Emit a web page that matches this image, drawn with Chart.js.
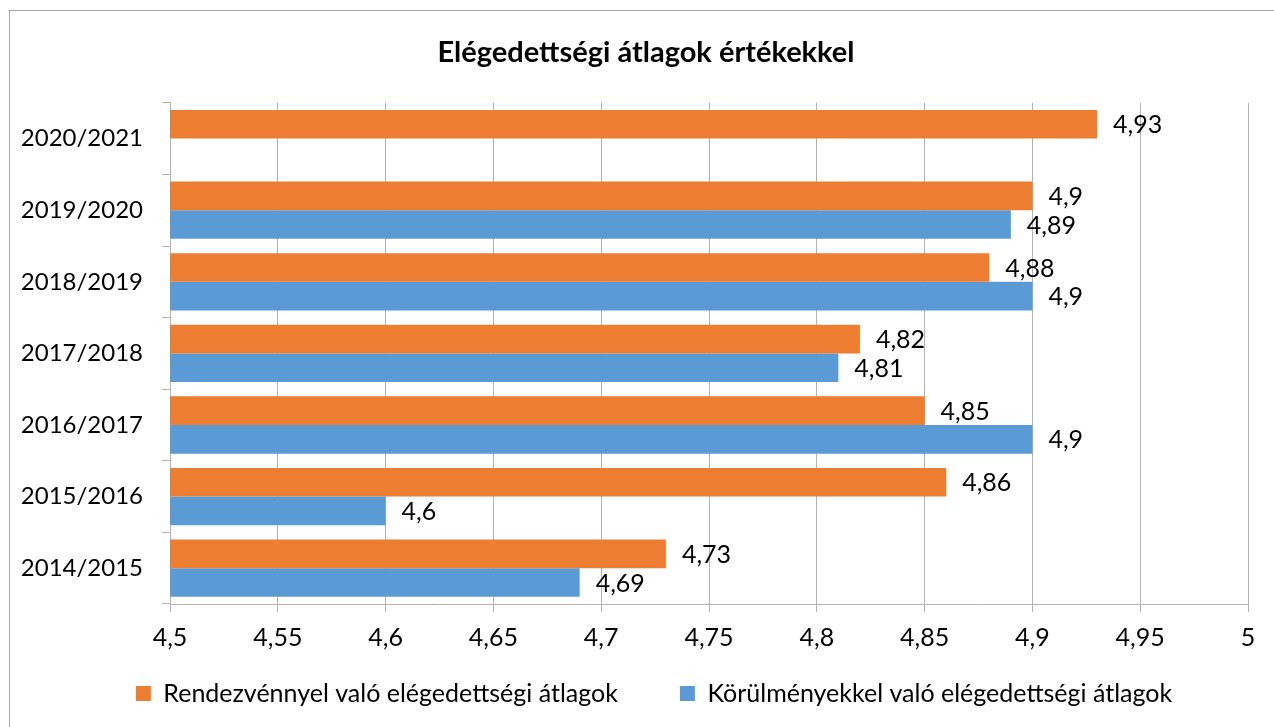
<!DOCTYPE html>
<html>
<head>
<meta charset="utf-8">
<title>Elégedettségi átlagok értékekkel</title>
<script src="https://cdn.jsdelivr.net/npm/chart.js@4/dist/chart.umd.min.js"></script>
<style>
  html, body { margin: 0; padding: 0; background: #fff; overflow: hidden; }
  #frame {
    position: absolute; left: 9px; top: 10px; width: 1300px; height: 800px;
    border-left: 1px solid #a6a6a6; border-top: 1px solid #a6a6a6;
  }
  #chart { position: absolute; left: 0; top: 0; }
</style>
</head>
<body>
<div id="frame"></div>
<canvas id="chart" width="1274" height="727"></canvas>
<script>
const years = ['2020/2021', '2019/2020', '2018/2019', '2017/2018', '2016/2017', '2015/2016', '2014/2015'];
const eventAvg = [4.93, 4.9, 4.88, 4.82, 4.85, 4.86, 4.73];
const venueAvg = [null, 4.89, 4.9, 4.81, 4.9, 4.6, 4.69];
const seriesNames = ['Rendezvénnyel való elégedettségi átlagok', 'Körülményekkel való elégedettségi átlagok'];
const axisMin = 4.5;
const axisMax = 5;
const axisStep = 0.05;

const FONT = 'Lato, "Open Sans", sans-serif';
const gridGray = '#b3b3b3';

function huNum(v) {
  return Number(v.toFixed(2)).toString().replace('.', ',');
}

// value labels at the end of each bar
const barLabels = {
  id: 'barLabels',
  afterDatasetsDraw(chart) {
    const ctx = chart.ctx;
    ctx.save();
    ctx.font = '25px ' + FONT;
    ctx.fillStyle = '#000';
    ctx.textAlign = 'left';
    ctx.textBaseline = 'middle';
    chart.data.datasets.forEach((ds, i) => {
      chart.getDatasetMeta(i).data.forEach((bar, j) => {
        const v = ds.data[j];
        if (v == null) return;
        ctx.fillText(huNum(v), bar.x + 16, bar.y + 1);
      });
    });
    ctx.restore();
  }
};

// nudge title and legend to where they sit in the original
const nudge = {
  id: 'nudge',
  afterLayout(chart) {
    const t = chart.titleBlock;
    t.left += 22; t.right += 22;
    const lg = chart.legend;
    lg.left += 30; lg.right += 30;
    lg.top = 619; lg.bottom = 727;
    lg.height = lg.bottom - lg.top;
  }
};

new Chart(document.getElementById('chart'), {
  type: 'bar',
  data: {
    labels: years,
    datasets: [
      { label: seriesNames[0], data: eventAvg, backgroundColor: '#ED7D31' },
      { label: seriesNames[1], data: venueAvg, backgroundColor: '#5B9BD5' }
    ]
  },
  options: {
    indexAxis: 'y',
    responsive: false,
    devicePixelRatio: 1,
    animation: false,
    categoryPercentage: 0.8,
    barPercentage: 1,
    layout: { padding: { left: 0, right: 26, top: 0, bottom: 0 } },
    plugins: {
      title: {
        display: true,
        text: 'Elégedettségi átlagok értékekkel',
        color: '#000',
        font: { family: FONT, size: 29, weight: 'bold' },
        padding: { top: 35, bottom: 33 }
      },
      legend: {
        position: 'bottom',
        maxHeight: 60,
        labels: {
          color: '#000',
          font: { family: FONT, size: 25 },
          boxWidth: 15,
          boxHeight: 15,
          padding: 62
        }
      },
      tooltip: { enabled: false }
    },
    scales: {
      x: {
        min: axisMin,
        max: axisMax,
        afterFit: (s) => { s.height = 63; },
        ticks: {
          stepSize: axisStep,
          color: '#000',
          font: { family: FONT, size: 25 },
          padding: 11,
          maxRotation: 0,
          callback: (v) => huNum(v)
        },
        grid: { color: gridGray, lineWidth: 1, tickLength: 8 },
        border: { color: gridGray }
      },
      y: {
        afterFit: (s) => { s.width = 170; },
        ticks: {
          color: '#000',
          font: { family: FONT, size: 24 },
          padding: 19
        },
        grid: { offset: true, drawOnChartArea: false, color: gridGray, tickLength: 8 },
        border: { color: gridGray }
      }
    }
  },
  plugins: [barLabels, nudge]
});
</script>
</body>
</html>
